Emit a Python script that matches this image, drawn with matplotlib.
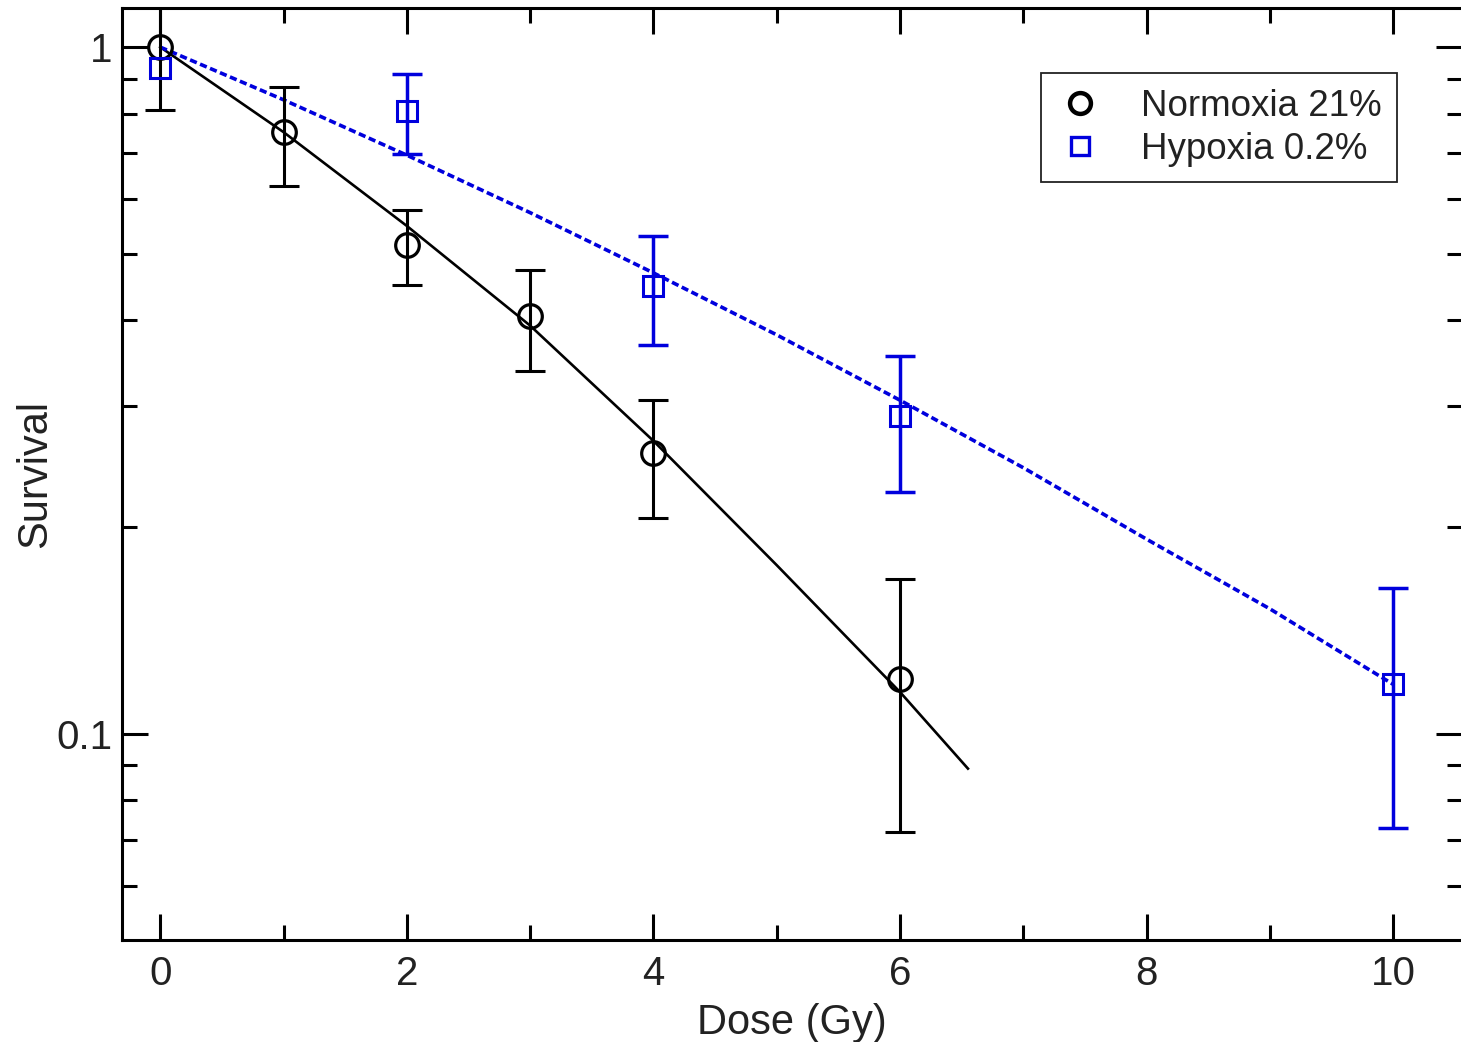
import matplotlib
matplotlib.use("Agg")
from matplotlib import pyplot as plt
from matplotlib.lines import Line2D
from matplotlib.ticker import LogLocator, NullFormatter, FixedLocator
import numpy as np

plt.rcParams['font.family'] = ['Liberation Sans', 'DejaVu Sans']

# measured points
norm_dose = [0, 1, 2, 3, 4, 6]
norm_surv = [1.0, 0.752, 0.515, 0.406, 0.256, 0.120]
norm_err = [0.19, 0.124, 0.065, 0.068, 0.05, 0.048]

hyp_dose = [0, 2, 4, 6, 10]
hyp_surv = [0.932, 0.807, 0.449, 0.290, 0.118]
hyp_err = [0.0, 0.108, 0.081, 0.065, 0.045]

# fitted curves
norm_fit_dose = [0, 1, 2, 3, 4, 5, 6, 6.55]
norm_fit_surv = [1.0, 0.752, 0.549, 0.393, 0.267, 0.176, 0.115, 0.089]
hyp_fit_dose = [0, 1, 2, 3, 4, 5, 6, 7, 8, 9, 10]
hyp_fit_surv = [1.0, 0.838, 0.696, 0.574, 0.469, 0.381, 0.306, 0.244, 0.192, 0.152, 0.118]

blue = '#0000dd'
txt = '#222222'

fig = plt.figure(figsize=(14.61, 10.42), dpi=100)
ax = fig.add_axes([0.0835, 0.0979, 0.9175, 0.8944])
ax.set_yscale('log')

# fit lines
ax.plot(norm_fit_dose, norm_fit_surv, color='black', lw=1.9, zorder=2)
ax.plot(hyp_fit_dose, hyp_fit_surv, color=blue, lw=2.6, ls=(0, (2.0, 1.0)), zorder=3)

# error bars
ax.errorbar(norm_dose, norm_surv, yerr=norm_err, fmt='none', ecolor='black',
            elinewidth=2.2, capsize=11, capthick=2.2, zorder=4)
hd = [d for d, e in zip(hyp_dose, hyp_err) if e > 0]
hs = [s for s, e in zip(hyp_surv, hyp_err) if e > 0]
he = [e for e in hyp_err if e > 0]
ax.errorbar(hd, hs, yerr=he, fmt='none', ecolor=blue,
            elinewidth=2.5, capsize=11, capthick=2.5, zorder=4)

# markers
ax.plot(norm_dose, norm_surv, 'o', ms=17, mfc='none', mec='black', mew=2.3, zorder=5)
ax.plot(hyp_dose, hyp_surv, 's', ms=14, mfc='none', mec=blue, mew=2.2, zorder=5)

ax.set_xlim(-0.31, 10.56)
ax.set_ylim(0.0501, 1.14)

ax.set_xticks([0, 2, 4, 6, 8, 10])
ax.set_xticks([1, 3, 5, 7, 9], minor=True)
ax.yaxis.set_major_locator(FixedLocator([0.1, 1]))
ax.set_yticklabels(['0.1', '1'])
ax.yaxis.set_minor_locator(LogLocator(base=10, subs=np.arange(2, 10) * 0.1, numticks=20))
ax.yaxis.set_minor_formatter(NullFormatter())

ax.tick_params(which='both', direction='in', top=True, right=True, width=2.2, color='black')
ax.tick_params(which='major', length=19, labelsize=29, labelcolor=txt)
ax.tick_params(which='minor', length=11)
ax.tick_params(axis='x', which='major', pad=11)
ax.tick_params(axis='y', which='major', pad=7)

for sp in ax.spines.values():
    sp.set_linewidth(2.2)

ax.set_xlabel('Dose (Gy)', fontsize=30, color=txt, labelpad=7)
ax.set_ylabel('Survival', fontsize=30, color=txt, labelpad=1)

handles = [
    Line2D([], [], ls='none', marker='o', ms=15, mfc='none', mec='black', mew=3.2),
    Line2D([], [], ls='none', marker='s', ms=13, mfc='none', mec=blue, mew=2.4),
]
leg = ax.legend(handles, ['Normoxia 21%', 'Hypoxia 0.2%'], loc='upper right',
                bbox_to_anchor=(0.951, 0.930), borderaxespad=0, fontsize=26.5,
                fancybox=False, framealpha=1, edgecolor='#222222',
                handletextpad=1.02, borderpad=0.42, labelspacing=0.22,
                handlelength=1.28)
leg.get_frame().set_linewidth(1.3)
for t in leg.get_texts():
    t.set_color(txt)

fig.savefig('out.png', dpi=100)
